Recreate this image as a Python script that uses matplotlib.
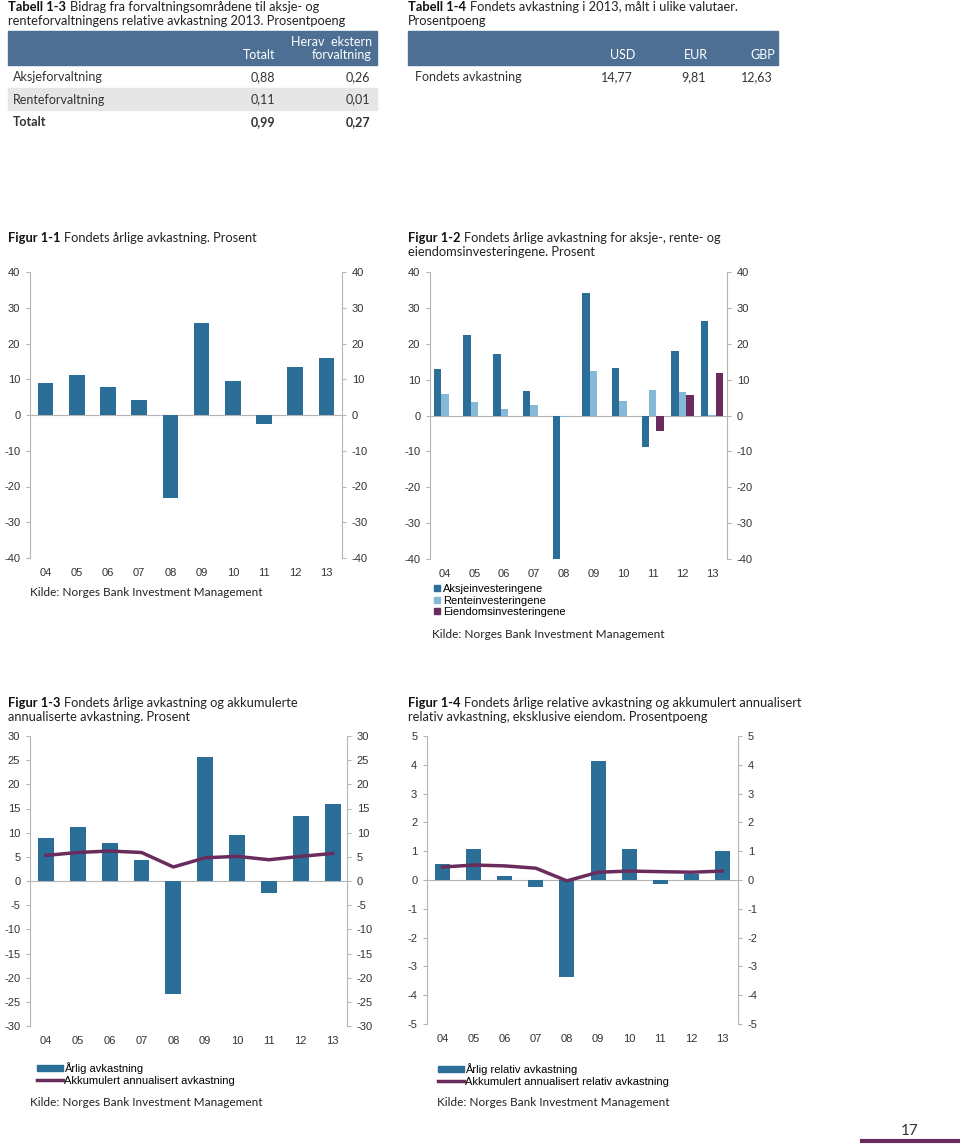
import matplotlib
matplotlib.use('Agg')
from matplotlib import pyplot as plt
from matplotlib.patches import Rectangle, Patch
from matplotlib.lines import Line2D
import numpy as np

plt.rcParams['axes.unicode_minus'] = False

# Data
years = ['04', '05', '06', '07', '08', '09', '10', '11', '12', '13']

annual_return = [8.94, 11.09, 7.92, 4.26, -23.31, 25.62, 9.62, -2.54, 13.42, 15.95]
equity_return = [13.00, 22.49, 17.04, 6.82, -40.71, 34.27, 13.34, -8.84, 18.06, 26.28]
fixed_income_return = [6.10, 3.82, 1.95, 2.96, -0.54, 12.49, 4.11, 7.03, 6.68, 0.10]
real_estate_return = [np.nan] * 7 + [-4.37, 5.77, 11.79]
accum_annualised = [5.3, 5.9, 6.2, 5.9, 2.9, 4.8, 5.1, 4.4, 5.1, 5.7]
relative_return = [0.54, 1.06, 0.14, -0.24, -3.37, 4.13, 1.06, -0.13, 0.21, 0.99]
accum_relative = [0.45, 0.52, 0.49, 0.41, -0.03, 0.27, 0.31, 0.29, 0.27, 0.31]

tab13_rows = ['Aksjeforvaltning', 'Renteforvaltning', 'Totalt']
tab13_total = ['0,88', '0,11', '0,99']
tab13_external = ['0,26', '0,01', '0,27']
tab14_currencies = ['USD', 'EUR', 'GBP']
tab14_values = ['14,77', '9,81', '12,63']

# Colours and fonts
DARK = '#2b6f98'
LIGHT = '#86b9d8'
PURPLE = '#6a2c5d'
HEADER = '#4d6f94'
BAND = '#e6e6e6'
GREY = '#b5b5b5'
TXT = '#333333'
TEXT_FONT = 'Lato'
CHART_FONT = 'Liberation Sans'

W, H = 960, 1147
fig = plt.figure(figsize=(W / 100, H / 100), dpi=100)


def fx(x):
    return x / W


def fy(y):
    return 1 - y / H


def rect(x0, y0, x1, y1):
    return [x0 / W, 1 - y1 / H, (x1 - x0) / W, (y1 - y0) / H]


def title(x, y, bold, lines):
    # bold label followed by the regular title text on the same line
    t = fig.text(fx(x), fy(y), bold, fontsize=9.3, fontweight='bold',
                 family=TEXT_FONT, color='#111111', va='bottom', ha='left')
    fig.canvas.draw()
    fig.text(t.get_window_extent().x1 / W + 3.5 / W, fy(y), lines[0],
             fontsize=9.3, family=TEXT_FONT, color='#222222', va='bottom', ha='left')
    for i, ln in enumerate(lines[1:]):
        fig.text(fx(x), fy(y + 14 * (i + 1)), ln, fontsize=9.3, family=TEXT_FONT,
                 color='#222222', va='bottom', ha='left')


def source(x, y):
    fig.text(fx(x), fy(y), 'Kilde: Norges Bank Investment Management', fontsize=8.5,
             family=TEXT_FONT, color='#222222', va='center', ha='left')


def style_axes(ax, ylim, step):
    ax.set_xlim(-0.5, 9.5)
    ax.set_ylim(*ylim)
    ticks = np.arange(ylim[0], ylim[1] + step / 2, step)
    ax.set_yticks(ticks)
    ax.set_yticklabels([f'{int(t)}' for t in ticks])
    ax.set_xticks(range(len(years)))
    ax.set_xticklabels(years)
    for s in ['top', 'bottom']:
        ax.spines[s].set_visible(False)
    for s in ['left', 'right']:
        ax.spines[s].set_color(GREY)
        ax.spines[s].set_linewidth(0.8)
    ax.axhline(0, color=GREY, lw=0.8, zorder=1)
    ax.tick_params(axis='y', left=True, right=True, labelleft=True, labelright=True,
                   length=3, width=0.8, color=GREY, pad=4, labelsize=8, labelcolor=TXT)
    ax.tick_params(axis='x', bottom=False, pad=3.5, labelsize=8, labelcolor=TXT)
    for lab in ax.get_xticklabels() + ax.get_yticklabels():
        lab.set_family(CHART_FONT)
    ax.patch.set_visible(False)


# Tabell 1-3
title(8, 13, 'Tabell 1-3', ['Bidrag fra forvaltningsområdene til aksje- og',
                             'renteforvaltningens relative avkastning 2013. Prosentpoeng'])
fig.patches.append(Rectangle((fx(8), fy(65)), fx(369), (65 - 31) / H,
                             transform=fig.transFigure, color=HEADER, zorder=0))
fig.patches.append(Rectangle((fx(8), fy(110)), fx(369), (110 - 88) / H,
                             transform=fig.transFigure, color=BAND, zorder=0))
fig.text(fx(275), fy(55), 'Totalt', fontsize=9, family=TEXT_FONT, color='white',
         ha='right', va='center')
fig.text(fx(372), fy(42), 'Herav  ekstern', fontsize=9, family=TEXT_FONT, color='white',
         ha='right', va='center')
fig.text(fx(372), fy(55), 'forvaltning', fontsize=9, family=TEXT_FONT, color='white',
         ha='right', va='center')
for i, name in enumerate(tab13_rows):
    y = 77 + 22.5 * i
    w = 'bold' if name == 'Totalt' else 'normal'
    fig.text(fx(13), fy(y), name, fontsize=9, family=TEXT_FONT, color=TXT,
             ha='left', va='center', fontweight=w)
    fig.text(fx(275), fy(y), tab13_total[i], fontsize=9, family=TEXT_FONT, color=TXT,
             ha='right', va='center', fontweight=w)
    fig.text(fx(370), fy(y), tab13_external[i], fontsize=9, family=TEXT_FONT, color=TXT,
             ha='right', va='center', fontweight=w)

# Tabell 1-4
title(408, 13, 'Tabell 1-4', ['Fondets avkastning i 2013, målt i ulike valutaer.',
                             'Prosentpoeng'])
fig.patches.append(Rectangle((fx(408), fy(65)), fx(370), (65 - 31) / H,
                             transform=fig.transFigure, color=HEADER, zorder=0))
fig.text(fx(415), fy(77), 'Fondets avkastning', fontsize=9, family=TEXT_FONT, color=TXT,
         ha='left', va='center')
for xr, cur, val in zip([635, 708, 775], tab14_currencies, tab14_values):
    fig.text(fx(xr), fy(55), cur, fontsize=9, family=TEXT_FONT, color='white',
             ha='right', va='center')
    fig.text(fx(xr - 2), fy(77), val, fontsize=9, family=TEXT_FONT, color=TXT,
             ha='right', va='center')

x = np.arange(len(years))

# Figur 1-1
title(8, 244, 'Figur 1-1', ['Fondets årlige avkastning. Prosent'])
ax1 = fig.add_axes(rect(30, 272, 342, 558))
ax1.bar(x, annual_return, width=0.5, color=DARK, zorder=2)
style_axes(ax1, (-40, 40), 10)
source(30, 593)

# Figur 1-2
title(408, 244, 'Figur 1-2', ['Fondets årlige avkastning for aksje-, rente- og',
                             'eiendomsinvesteringene. Prosent'])
ax2 = fig.add_axes(rect(430, 272, 727, 559))
ax2.bar(x - 0.25, equity_return, width=0.25, color=DARK, zorder=2)
ax2.bar(x, fixed_income_return, width=0.25, color=LIGHT, zorder=2)
ax2.bar(x + 0.25, real_estate_return, width=0.25, color=PURPLE, zorder=2)
style_axes(ax2, (-40, 40), 10)
handles = [Line2D([], [], marker='s', ls='none', color=c, markersize=4.5)
           for c in [DARK, LIGHT, PURPLE]]
fig.legend(handles, ['Aksjeinvesteringene', 'Renteinvesteringene', 'Eiendomsinvesteringene'],
           loc='upper left', bbox_to_anchor=(fx(434), fy(584)), frameon=False,
           prop={'family': CHART_FONT, 'size': 8}, handlelength=0.6, handletextpad=0.2,
           labelspacing=0.15, borderpad=0, borderaxespad=0)
source(432, 635)

# Figur 1-3
title(8, 709, 'Figur 1-3', ['Fondets årlige avkastning og akkumulerte',
                           'annualiserte avkastning. Prosent'])
ax3 = fig.add_axes(rect(30, 736, 347, 1026))
ax3.bar(x, annual_return, width=0.5, color=DARK, zorder=2)
ax3.plot(x, accum_annualised, color=PURPLE, lw=2.5, zorder=3)
style_axes(ax3, (-30, 30), 5)
ax3.set_xlim(-0.5, 9.45)
fig.legend([Patch(color=DARK), Line2D([], [], color=PURPLE, lw=2.5)],
           ['Årlig avkastning', 'Akkumulert annualisert avkastning'],
           loc='upper left', bbox_to_anchor=(fx(37), fy(1062)), frameon=False,
           prop={'family': CHART_FONT, 'size': 8}, handlelength=2.3, handleheight=0.5,
           handletextpad=0.1, labelspacing=0.15, borderpad=0, borderaxespad=0)
source(30, 1102)

# Figur 1-4
title(408, 709, 'Figur 1-4', ['Fondets årlige relative avkastning og akkumulert annualisert',
                             'relativ avkastning, eksklusive eiendom. Prosentpoeng'])
ax4 = fig.add_axes(rect(427, 736, 738, 1024))
ax4.bar(x, relative_return, width=0.48, color=DARK, zorder=2)
ax4.plot(x, accum_relative, color=PURPLE, lw=2.5, zorder=3)
style_axes(ax4, (-5, 5), 1)
fig.legend([Patch(color=DARK), Line2D([], [], color=PURPLE, lw=2.5)],
           ['Årlig relativ avkastning', 'Akkumulert annualisert relativ avkastning'],
           loc='upper left', bbox_to_anchor=(fx(438), fy(1063)), frameon=False,
           prop={'family': CHART_FONT, 'size': 8}, handlelength=2.3, handleheight=0.5,
           handletextpad=0.1, labelspacing=0.15, borderpad=0, borderaxespad=0)
source(437, 1102)

# Page number
fig.text(fx(910), fy(1131), '17', fontsize=11, family=TEXT_FONT, color='#333333',
         ha='center', va='center')
fig.lines.append(Line2D([fx(862), fx(960)], [fy(1141), fy(1141)], color=PURPLE, lw=3,
                        transform=fig.transFigure))

fig.savefig('out.png', dpi=100)
